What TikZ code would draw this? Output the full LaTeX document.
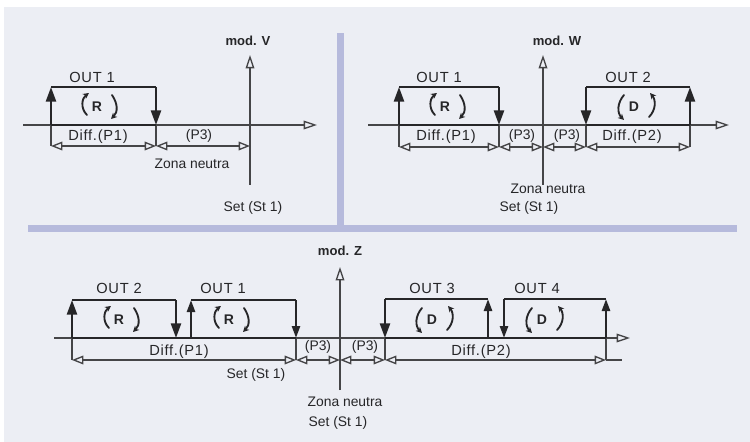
\documentclass[tikz,border=0pt]{standalone}
\usepackage{fontspec}
\setmainfont{Liberation Sans}
\usetikzlibrary{arrows.meta}
\definecolor{panelc}{HTML}{ECEEF4}
\definecolor{bandc}{HTML}{B6BADC}
\definecolor{inkc}{HTML}{262628}
\definecolor{linec}{HTML}{454547}
\tikzset{
  lbl/.style={font=\fontsize{10.4}{12}\selectfont,text=inkc,inner sep=0pt},
  lblwide/.style={font=\fontsize{11}{12}\selectfont\addfontfeatures{LetterSpace=5},text=inkc,inner sep=0pt},
  modlbl/.style={font=\fontsize{9.8}{12}\selectfont\bfseries,text=inkc,inner sep=0pt},
  modeltr/.style={font=\fontsize{10.5}{12}\selectfont\bfseries,text=inkc,inner sep=0pt},
  axisline/.style={draw=linec,line width=1pt,-{Triangle[open,length=10pt,width=6.5pt,line width=1pt]}},
  tick/.style={draw=linec,line width=.85pt},
  dimline/.style={draw=linec,line width=1pt,{Triangle[open,length=8.5pt,width=6.5pt,line width=1pt]}-{Triangle[open,length=8.5pt,width=6.5pt,line width=1pt]}},
  edge/.style={draw=inkc,line width=1.9pt},
  edgeup/.style={edge,-{Triangle[length=11pt,width=7.5pt]}},
  edgeupsmall/.style={edge,-{Triangle[length=9pt,width=6pt]}},
  curl/.style={draw=inkc,line width=1.4pt,line cap=round},
  curlhead/.style={curl,-{Stealth[length=4.5pt,width=4.5pt]}},
  pics/rotR/.style={code={
    \draw[curlhead] (-10,8) .. controls (-17,1) and (-15,-9) .. (-8,-14);
    \draw[curlhead] (15,-12) .. controls (21,-3) and (21,5) .. (14,12);
  }},
  pics/rotD/.style={code={
    \draw[curlhead] (-10,-12) .. controls (-17,-4) and (-17,6) .. (-10,13);
    \draw[curlhead] (15,10) .. controls (22,3) and (22,-7) .. (16,-14);
  }},
}
\begin{document}
\begin{tikzpicture}[x=.75pt,y=-.75pt]
\useasboundingbox (0,0) rectangle (750,442);
\fill[panelc] (4,7) rectangle (750,442);
\fill[bandc] (337,33) rectangle (344,228);
\fill[bandc] (28,225) rectangle (737,232);

% ---------- mod. V ----------
\coordinate (vAxL) at (23,125);
\coordinate (vAxR) at (317,125);
\coordinate (vSetB) at (250,185);
\coordinate (vSetT) at (250,55);
\coordinate (vSetD) at (250,146);
\coordinate (vA) at (51,125);
\coordinate (vAt) at (51,87);
\coordinate (vAd) at (51,146);
\coordinate (vB) at (156,125);
\coordinate (vBt) at (156,87);
\coordinate (vBd) at (156,146);
\draw[axisline] (vAxL) -- (vAxR);
\draw[axisline] (vSetB) -- (vSetT);
\draw[tick] (vA) -- (vAd);
\draw[tick] (vB) -- (vBd);
\draw[dimline] (vAd) -- (vBd);
\draw[dimline] (vBd) -- (vSetD);
\draw[edge] (vAt) -- (vBt);
\draw[edge] (vA) -- (vB);
\draw[edgeup] (vA) -- (vAt);
\draw[edgeup] (vBt) -- (vB);
\node[modlbl] (vMod) at (248,41) {mod. V};
\node[lblwide] (vOut) at (92,77) {OUT 1};
\node[modeltr] (vR) at (97,107) {R};
\pic at (vR) {rotR};
\node[lblwide] (vDiff) at (98,137) {Diff.(P1)};
\node[lbl] (vP3) at (199,136) {(P3)};
\node[lbl] (vZona) at (192,164) {Zona neutra};
\node[lbl] (vSet) at (253,208) {Set (St 1)};

% ---------- mod. W ----------
\coordinate (wAxL) at (368,125);
\coordinate (wAxR) at (729,125);
\coordinate (wSetB) at (543,185);
\coordinate (wSetT) at (543,55);
\coordinate (wSetD) at (543,147);
\coordinate (wA) at (399,125);
\coordinate (wAt) at (399,87);
\coordinate (wAd) at (399,147);
\coordinate (wB) at (499,125);
\coordinate (wBt) at (499,87);
\coordinate (wBd) at (499,147);
\coordinate (wC) at (586,125);
\coordinate (wCt) at (586,87);
\coordinate (wCd) at (586,147);
\coordinate (wE) at (690,125);
\coordinate (wEt) at (690,87);
\coordinate (wEd) at (690,147);
\draw[axisline] (wAxL) -- (wAxR);
\draw[axisline] (wSetB) -- (wSetT);
\draw[tick] (wA) -- (wAd);
\draw[tick] (wB) -- (wBd);
\draw[tick] (wC) -- (wCd);
\draw[tick] (wE) -- (wEd);
\draw[dimline] (wAd) -- (wBd);
\draw[dimline] (wBd) -- (wSetD);
\draw[dimline] (wSetD) -- (wCd);
\draw[dimline] (wCd) -- (wEd);
\draw[edge] (wAt) -- (wBt);
\draw[edge] (wA) -- (wB);
\draw[edgeup] (wA) -- (wAt);
\draw[edgeup] (wBt) -- (wB);
\draw[edge] (wCt) -- (wEt);
\draw[edge] (wC) -- (wE);
\draw[edgeup] (wCt) -- (wC);
\draw[edgeup] (wE) -- (wEt);
\node[modlbl] (wMod) at (557,41) {mod. W};
\node[lblwide] (wOutA) at (439,77) {OUT 1};
\node[lblwide] (wOutB) at (628,77) {OUT 2};
\node[modeltr] (wR) at (445,107) {R};
\pic at (wR) {rotR};
\node[modeltr] (wD) at (634,107) {D};
\pic at (wD) {rotD};
\node[lblwide] (wDiffA) at (446,137) {Diff.(P1)};
\node[lbl] (wP3a) at (522,136) {(P3)};
\node[lbl] (wP3b) at (567,136) {(P3)};
\node[lblwide] (wDiffB) at (632,137) {Diff.(P2)};
\node[lbl] (wZona) at (548,189) {Zona neutra};
\node[lbl] (wSet) at (529,208) {Set (St 1)};

% ---------- mod. Z ----------
\coordinate (zAxL) at (54,338);
\coordinate (zAxR) at (630,338);
\coordinate (zSetB) at (340,390);
\coordinate (zSetT) at (340,267);
\coordinate (zSetD) at (340,360);
\coordinate (zA) at (72,338);
\coordinate (zAt) at (72,300);
\coordinate (zAd) at (72,360);
\coordinate (zB) at (176,338);
\coordinate (zBt) at (176,300);
\coordinate (zC) at (191,338);
\coordinate (zCt) at (191,300);
\coordinate (zE) at (296,338);
\coordinate (zEt) at (296,300);
\coordinate (zEd) at (296,360);
\coordinate (zF) at (385,338);
\coordinate (zFt) at (385,299);
\coordinate (zFd) at (385,360);
\coordinate (zG) at (488,338);
\coordinate (zGt) at (488,299);
\coordinate (zH) at (504,338);
\coordinate (zHt) at (504,299);
\coordinate (zI) at (606,338);
\coordinate (zIt) at (606,299);
\coordinate (zId) at (606,360);
\coordinate (zDimEnd) at (622,360);
\draw[axisline] (zAxL) -- (zAxR);
\draw[axisline] (zSetB) -- (zSetT);
\draw[tick] (zA) -- (zAd);
\draw[tick] (zE) -- (zEd);
\draw[tick] (zF) -- (zFd);
\draw[tick] (zI) -- (zId);
\draw[dimline] (zAd) -- (zEd);
\draw[dimline] (zEd) -- (zSetD);
\draw[dimline] (zSetD) -- (zFd);
\draw[dimline] (zFd) -- (zId);
\draw[tick] (zId) -- (zDimEnd);
\draw[edge] (zAt) -- (zBt);
\draw[edge] (zA) -- (zE);
\draw[edgeup] (zA) -- (zAt);
\draw[edgeup] (zBt) -- (zB);
\draw[edge] (zCt) -- (zEt);
\draw[edgeupsmall] (zC) -- (zCt);
\draw[edgeupsmall] (zEt) -- (zE);
\draw[edge] (zFt) -- (zGt);
\draw[edge] (zF) -- (zI);
\draw[edgeup] (zFt) -- (zF);
\draw[edgeupsmall] (zG) -- (zGt);
\draw[edge] (zHt) -- (zIt);
\draw[edgeupsmall] (zHt) -- (zH);
\draw[edgeupsmall] (zI) -- (zIt);
\node[modlbl] (zMod) at (340,251) {mod. Z};
\node[lblwide] (zOutB) at (119,288) {OUT 2};
\node[lblwide] (zOutA) at (223,288) {OUT 1};
\node[lblwide] (zOutC) at (432,288) {OUT 3};
\node[lblwide] (zOutD) at (537,288) {OUT 4};
\node[modeltr] (zRa) at (119,320) {R};
\pic at (zRa) {rotR};
\node[modeltr] (zRb) at (229,320) {R};
\pic at (zRb) {rotR};
\node[modeltr] (zDa) at (432,320) {D};
\pic at (zDa) {rotD};
\node[modeltr] (zDb) at (542,320) {D};
\pic at (zDb) {rotD};
\node[lblwide] (zDiffA) at (179,352) {Diff.(P1)};
\node[lblwide] (zDiffB) at (481,352) {Diff.(P2)};
\node[lbl] (zP3a) at (318,347) {(P3)};
\node[lbl] (zP3b) at (365,347) {(P3)};
\node[lbl] (zSetA) at (256,375) {Set (St 1)};
\node[lbl] (zZona) at (345,402) {Zona neutra};
\node[lbl] (zSetC) at (338,423) {Set (St 1)};
\end{tikzpicture}
\end{document}
